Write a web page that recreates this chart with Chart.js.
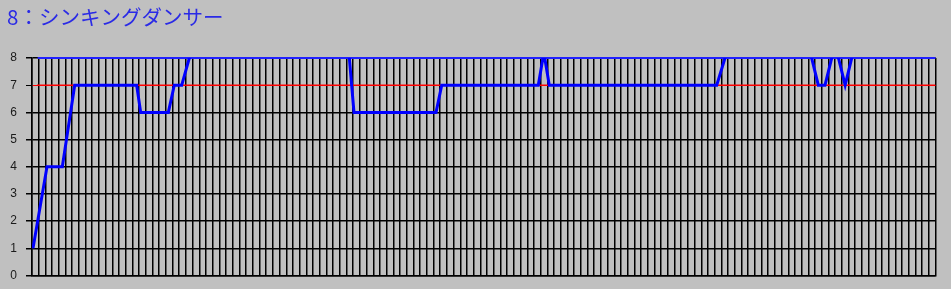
<!DOCTYPE html>
<html><head><meta charset="utf-8">
<script src="https://cdn.jsdelivr.net/npm/chart.js@4"></script>
<style>
html,body{margin:0;padding:0;background:#c0c0c0;overflow:hidden;}
#wrap{width:951px;height:289px;position:relative;}
canvas{display:block;}
</style>
</head><body>
<div id="wrap"><canvas id="c" width="951" height="289" style="width:951px;height:289px"></canvas></div>
<script>
// ---- data ----
const titleText = '8：シンキングダンサー';
const yTickValues = [0, 1, 2, 3, 4, 5, 6, 7, 8];
const xMin = 0;
const xMax = 135;
// series position (x, in grid steps) and value (y); values above 8 are cut off by the plot
const seriesX = [0.15, 2.24, 4.53, 6.38, 15.64, 16.24, 20.37, 21.26, 22.37, 24.65, 47.07, 48.11,
                 60.37, 61.22, 75.65, 76.48, 77.29, 102.31, 104.79, 115.5, 117.49, 118.49,
                 120.0, 121.5, 123.47, 135];
const seriesY = [1, 4, 4, 7, 7, 6, 6, 7, 7, 9, 9, 6,
                 6, 7, 7, 8.2, 7, 7, 9, 9, 7, 7,
                 8.5, 7, 9, 9];
const redLineValue = 7;
const redLineX = [0.75, 135];
const redLineY = [7, 7];
const blueLineX = [0.85, 135];
const blueLineY = [8, 8];

const pts = (xs, ys) => xs.map((x, i) => ({x: x, y: ys[i]}));

new Chart(document.getElementById('c'), {
  type: 'line',
  data: {
    datasets: [
      {
        data: pts(seriesX, seriesY),
        borderColor: '#0000ff',
        borderWidth: 3,
        pointRadius: 0,
        tension: 0,
        order: 0
      },
      {
        data: pts(redLineX, redLineY),
        borderColor: '#ff0000',
        borderWidth: 1.2,
        pointRadius: 0,
        order: 2
      },
      {
        data: pts(blueLineX, blueLineY),
        borderColor: '#2020ff',
        borderWidth: 2,
        pointRadius: 0,
        order: 1,
        clip: 3
      }
    ]
  },
  options: {
    responsive: false,
    animation: false,
    events: [],
    layout: { padding: { left: 7, right: 15.5, top: 0, bottom: 13.5 } },
    plugins: {
      legend: { display: false },
      tooltip: { enabled: false },
      title: {
        display: true,
        text: titleText,
        align: 'start',
        color: '#2a2ae6',
        font: { family: '"Noto Sans CJK JP", "Noto Sans", sans-serif', size: 20.5, weight: 'normal', lineHeight: 1.2 },
        padding: { top: 4.5, bottom: 28.9 }
      }
    },
    scales: {
      x: {
        type: 'linear',
        min: xMin,
        max: xMax,
        afterFit: (s) => { s.height = 0; s.paddingLeft = 0; s.paddingRight = 0; },
        ticks: { display: false, stepSize: 1, maxTicksLimit: 1000, autoSkip: false },
        grid: { color: '#000000', lineWidth: 1.5, drawTicks: false },
        border: { display: true, color: '#000000', width: 1.5 }
      },
      y: {
        min: 0,
        max: 8,
        afterFit: (s) => { s.width = 25; s.paddingTop = 0; s.paddingBottom = 0; },
        afterBuildTicks: (s) => { s.ticks = yTickValues.map(v => ({value: v})); },
        ticks: {
          color: '#1a1a1a',
          padding: 9,
          font: { family: '"Liberation Sans", Arial, sans-serif', size: 12 }
        },
        grid: {
          color: (ctx) => (ctx.tick && ctx.tick.value === redLineValue) ? '#ff0000' : '#000000',
          tickColor: '#000000',
          lineWidth: (ctx) => (ctx.tick && ctx.tick.value === redLineValue) ? 1 : 1.5,
          tickLength: 6
        },
        border: { display: true, color: '#000000', width: 1.5 }
      }
    }
  }
});
</script>
</body></html>
